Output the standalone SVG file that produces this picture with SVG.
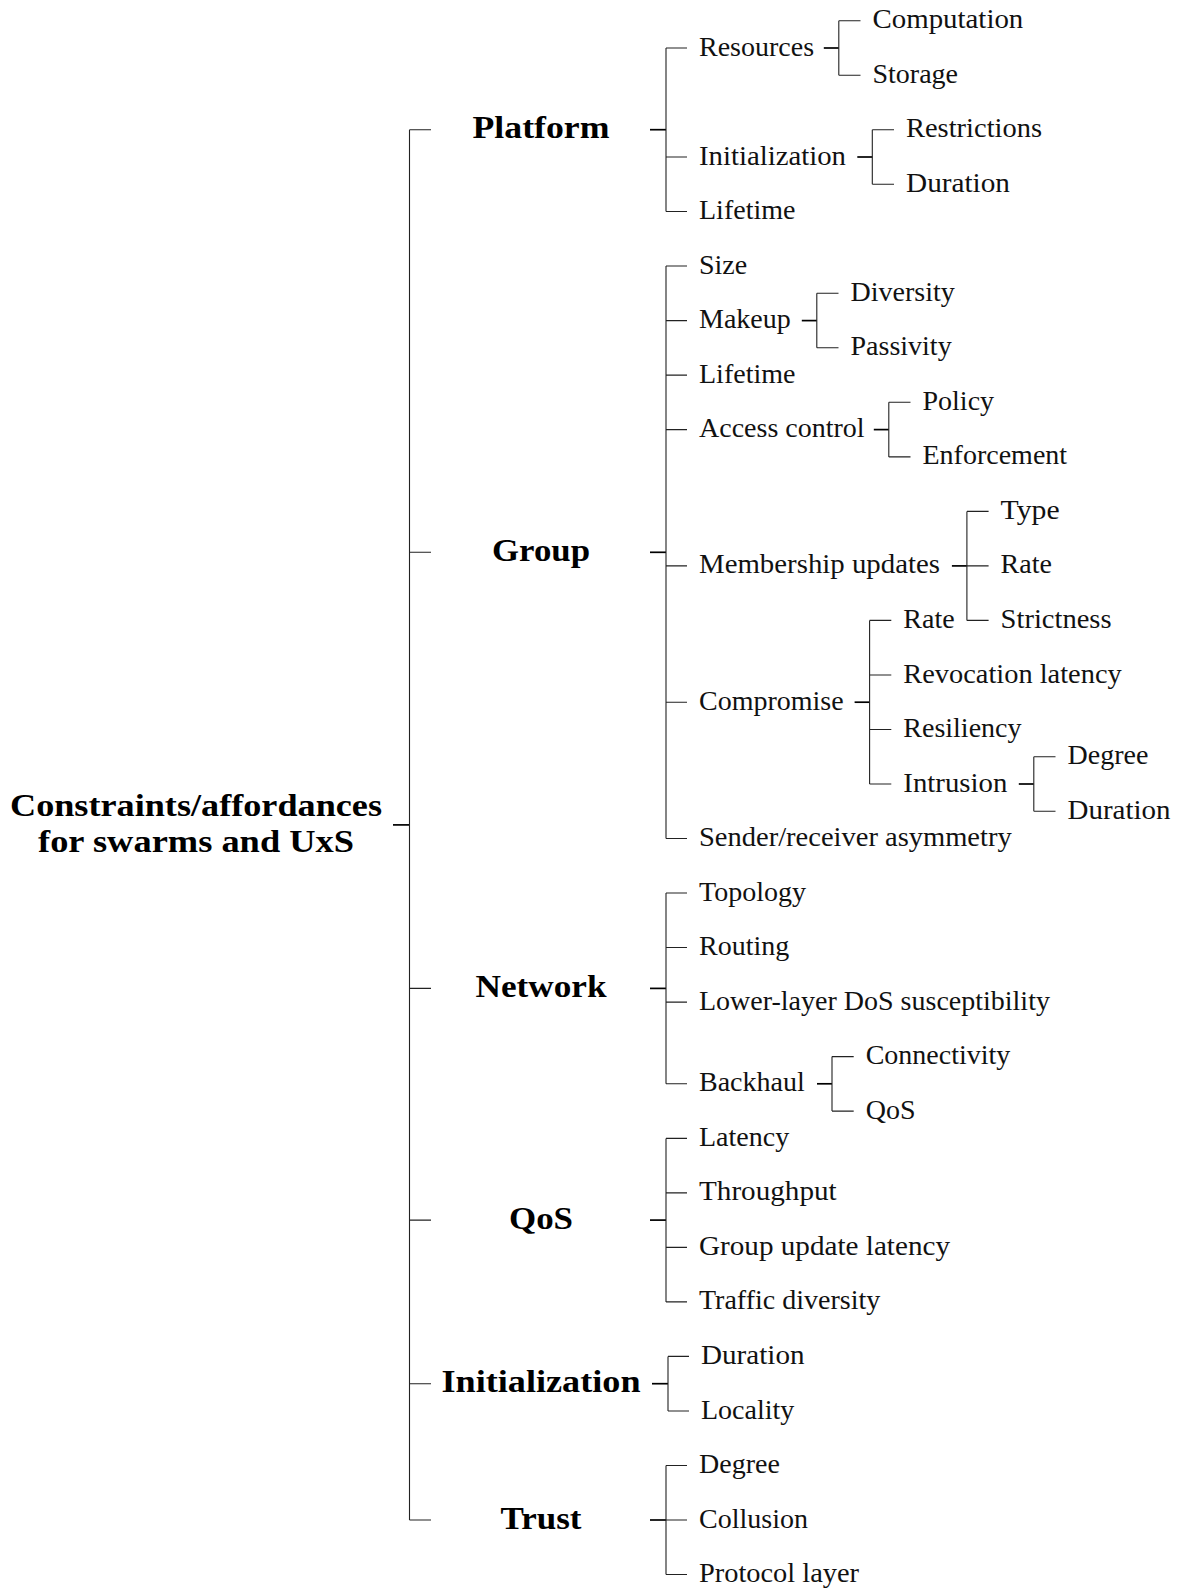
<svg xmlns="http://www.w3.org/2000/svg" width="1180" height="1590" viewBox="0 0 1180 1590">
  <style>
    .leaf { font-family: "Liberation Serif", "Times New Roman", serif; font-size: 28px; fill: #111; }
    .cat { font-family: "Liberation Serif", "Times New Roman", serif; font-size: 32px; font-weight: bold; fill: #000; text-anchor: middle; }
    .edge { fill: none; stroke: #222; stroke-width: 1.1; }
    .trunk { fill: none; stroke: #000; stroke-width: 1.7; }
  </style>
  <rect width="1180" height="1590" fill="#fff"/>

  <!-- forked tree edges -->
  <g id="connectors">
    <!-- root fork -->
    <path class="trunk" d="M393 824.9 H409.5"/>
    <path class="edge" d="M409.5 129.7 V1520 M409.5 129.7 H431 M409.5 552.3 H431 M409.5 988.4 H431 M409.5 1220.1 H431 M409.5 1383.7 H431 M409.5 1520 H431"/>
    <!-- Platform -->
    <path class="trunk" d="M650 129.7 H666"/>
    <path class="edge" d="M666 48 V211.5 M666 48 H687 M666 157 H687 M666 211.5 H687"/>
    <path class="trunk" d="M823.8 48 H838.8"/>
    <path class="edge" d="M838.8 20.7 V75.2 M838.8 20.7 H860.5 M838.8 75.2 H860.5"/>
    <path class="trunk" d="M857.3 157 H872.3"/>
    <path class="edge" d="M872.3 129.7 V184.3 M872.3 129.7 H894 M872.3 184.3 H894"/>
    <!-- Group -->
    <path class="trunk" d="M650 552.3 H666"/>
    <path class="edge" d="M666 266 V838.5 M666 266 H687 M666 320.6 H687 M666 375.1 H687 M666 429.6 H687 M666 565.9 H687 M666 702.2 H687 M666 838.5 H687"/>
    <path class="trunk" d="M801.8 320.6 H816.8"/>
    <path class="edge" d="M816.8 293.3 V347.8 M816.8 293.3 H838.5 M816.8 347.8 H838.5"/>
    <path class="trunk" d="M873.8 429.6 H888.8"/>
    <path class="edge" d="M888.8 402.3 V456.9 M888.8 402.3 H910.5 M888.8 456.9 H910.5"/>
    <path class="trunk" d="M951.9 565.9 H966.9"/>
    <path class="edge" d="M966.9 511.4 V620.4 M966.9 511.4 H988.6 M966.9 565.9 H988.6 M966.9 620.4 H988.6"/>
    <path class="trunk" d="M854.6 702.2 H869.6"/>
    <path class="edge" d="M869.6 620.4 V784 M869.6 620.4 H891.3 M869.6 675 H891.3 M869.6 729.5 H891.3 M869.6 784 H891.3"/>
    <path class="trunk" d="M1018.8 784 H1033.8"/>
    <path class="edge" d="M1033.8 756.7 V811.2 M1033.8 756.7 H1055.5 M1033.8 811.2 H1055.5"/>
    <!-- Network -->
    <path class="trunk" d="M650 988.4 H666"/>
    <path class="edge" d="M666 893 V1083.8 M666 893 H687 M666 947.5 H687 M666 1002.1 H687 M666 1083.8 H687"/>
    <path class="trunk" d="M817 1083.8 H832"/>
    <path class="edge" d="M832 1056.6 V1111.1 M832 1056.6 H853.7 M832 1111.1 H853.7"/>
    <!-- QoS -->
    <path class="trunk" d="M650 1220.1 H666"/>
    <path class="edge" d="M666 1138.4 V1301.9 M666 1138.4 H687 M666 1192.9 H687 M666 1247.4 H687 M666 1301.9 H687"/>
    <!-- Initialization -->
    <path class="trunk" d="M652 1383.7 H668"/>
    <path class="edge" d="M668 1356.4 V1411 M668 1356.4 H689 M668 1411 H689"/>
    <!-- Trust -->
    <path class="trunk" d="M650 1520 H666"/>
    <path class="edge" d="M666 1465.5 V1574.5 M666 1465.5 H687 M666 1520 H687 M666 1574.5 H687"/>
  </g>

  <!-- root -->
  <g id="root">
    <text class="cat" x="196" y="816" textLength="372" lengthAdjust="spacingAndGlyphs">Constraints/affordances</text>
    <text class="cat" x="196" y="852" textLength="316" lengthAdjust="spacingAndGlyphs">for swarms and UxS</text>
  </g>

  <!-- top-level categories -->
  <g id="platform"><text class="cat" x="541" y="138.2" textLength="137" lengthAdjust="spacingAndGlyphs">Platform</text></g>
  <g id="group"><text class="cat" x="541" y="560.8" textLength="98" lengthAdjust="spacingAndGlyphs">Group</text></g>
  <g id="network"><text class="cat" x="541" y="996.9" textLength="131" lengthAdjust="spacingAndGlyphs">Network</text></g>
  <g id="qos"><text class="cat" x="541" y="1228.6" textLength="64" lengthAdjust="spacingAndGlyphs">QoS</text></g>
  <g id="initialization"><text class="cat" x="541" y="1392.2" textLength="199" lengthAdjust="spacingAndGlyphs">Initialization</text></g>
  <g id="trust"><text class="cat" x="541" y="1528.5" textLength="81" lengthAdjust="spacingAndGlyphs">Trust</text></g>

  <!-- Platform subtree -->
  <g id="platform-resources"><text class="leaf" x="699" y="55.5">Resources</text></g>
  <g id="platform-resources-computation"><text class="leaf" x="872.5" y="28.2" textLength="150.8" lengthAdjust="spacingAndGlyphs">Computation</text></g>
  <g id="platform-resources-storage"><text class="leaf" x="872.5" y="82.7">Storage</text></g>
  <g id="platform-initialization"><text class="leaf" x="699" y="164.5" textLength="147" lengthAdjust="spacingAndGlyphs">Initialization</text></g>
  <g id="platform-initialization-restrictions"><text class="leaf" x="906" y="137.2" textLength="136" lengthAdjust="spacingAndGlyphs">Restrictions</text></g>
  <g id="platform-initialization-duration"><text class="leaf" x="906" y="191.8" textLength="104" lengthAdjust="spacingAndGlyphs">Duration</text></g>
  <g id="platform-lifetime"><text class="leaf" x="699" y="219">Lifetime</text></g>

  <!-- Group subtree -->
  <g id="group-size"><text class="leaf" x="699" y="273.5">Size</text></g>
  <g id="group-makeup"><text class="leaf" x="699" y="328.1">Makeup</text></g>
  <g id="group-makeup-diversity"><text class="leaf" x="850.5" y="300.8">Diversity</text></g>
  <g id="group-makeup-passivity"><text class="leaf" x="850.5" y="355.3">Passivity</text></g>
  <g id="group-lifetime"><text class="leaf" x="699" y="382.6">Lifetime</text></g>
  <g id="group-access"><text class="leaf" x="699" y="437.1">Access control</text></g>
  <g id="group-access-policy"><text class="leaf" x="922.5" y="409.8">Policy</text></g>
  <g id="group-access-enforcement"><text class="leaf" x="922.5" y="464.4">Enforcement</text></g>
  <g id="group-membership"><text class="leaf" x="699" y="573.4" textLength="241" lengthAdjust="spacingAndGlyphs">Membership updates</text></g>
  <g id="group-membership-type"><text class="leaf" x="1000.6" y="518.9" textLength="59" lengthAdjust="spacingAndGlyphs">Type</text></g>
  <g id="group-membership-rate"><text class="leaf" x="1000.6" y="573.4">Rate</text></g>
  <g id="group-membership-strictness"><text class="leaf" x="1000.6" y="627.9" textLength="111" lengthAdjust="spacingAndGlyphs">Strictness</text></g>
  <g id="group-compromise"><text class="leaf" x="699" y="709.7">Compromise</text></g>
  <g id="group-compromise-rate"><text class="leaf" x="903.3" y="627.9">Rate</text></g>
  <g id="group-compromise-revocation"><text class="leaf" x="903.3" y="682.5" textLength="218.4" lengthAdjust="spacingAndGlyphs">Revocation latency</text></g>
  <g id="group-compromise-resiliency"><text class="leaf" x="903.3" y="737">Resiliency</text></g>
  <g id="group-compromise-intrusion"><text class="leaf" x="903.3" y="791.5" textLength="104" lengthAdjust="spacingAndGlyphs">Intrusion</text></g>
  <g id="group-intrusion-degree"><text class="leaf" x="1067.5" y="764.2">Degree</text></g>
  <g id="group-intrusion-duration"><text class="leaf" x="1067.5" y="818.7" textLength="103" lengthAdjust="spacingAndGlyphs">Duration</text></g>
  <g id="group-asymmetry"><text class="leaf" x="699" y="846" textLength="312.7" lengthAdjust="spacingAndGlyphs">Sender/receiver asymmetry</text></g>

  <!-- Network subtree -->
  <g id="network-topology"><text class="leaf" x="699" y="900.5">Topology</text></g>
  <g id="network-routing"><text class="leaf" x="699" y="955">Routing</text></g>
  <g id="network-dos"><text class="leaf" x="699" y="1009.6">Lower-layer DoS susceptibility</text></g>
  <g id="network-backhaul"><text class="leaf" x="699" y="1091.3">Backhaul</text></g>
  <g id="network-backhaul-connectivity"><text class="leaf" x="865.7" y="1064.1">Connectivity</text></g>
  <g id="network-backhaul-qos"><text class="leaf" x="865.7" y="1118.6">QoS</text></g>

  <!-- QoS subtree -->
  <g id="qos-latency"><text class="leaf" x="699" y="1145.9">Latency</text></g>
  <g id="qos-throughput"><text class="leaf" x="699" y="1200.4" textLength="137.7" lengthAdjust="spacingAndGlyphs">Throughput</text></g>
  <g id="qos-group-update"><text class="leaf" x="699" y="1254.9" textLength="251" lengthAdjust="spacingAndGlyphs">Group update latency</text></g>
  <g id="qos-traffic"><text class="leaf" x="699" y="1309.4">Traffic diversity</text></g>

  <!-- Initialization subtree -->
  <g id="init-duration"><text class="leaf" x="701" y="1363.9" textLength="103.5" lengthAdjust="spacingAndGlyphs">Duration</text></g>
  <g id="init-locality"><text class="leaf" x="701" y="1418.5">Locality</text></g>

  <!-- Trust subtree -->
  <g id="trust-degree"><text class="leaf" x="699" y="1473">Degree</text></g>
  <g id="trust-collusion"><text class="leaf" x="699" y="1527.5">Collusion</text></g>
  <g id="trust-protocol"><text class="leaf" x="699" y="1582" textLength="160" lengthAdjust="spacingAndGlyphs">Protocol layer</text></g>
</svg>
